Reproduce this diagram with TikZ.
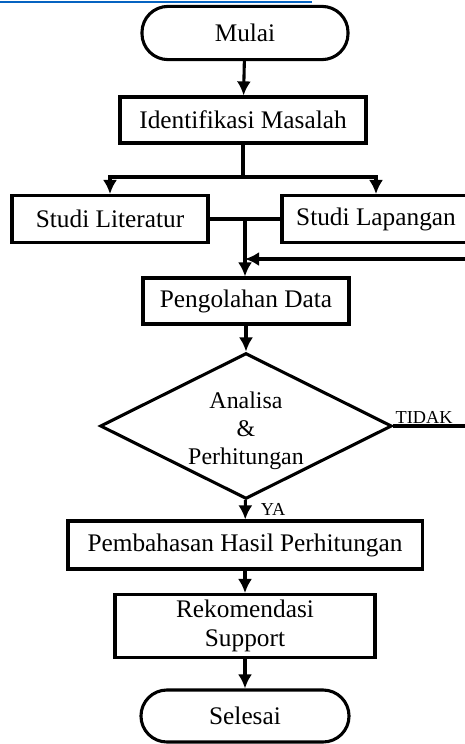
\documentclass[tikz,border=0pt]{standalone}
\usepackage{fontspec}
\setmainfont{Liberation Serif}
\usepackage{xcolor}
\usepackage{tikz}
\usetikzlibrary{arrows.meta,shapes}

\definecolor{linkblue}{RGB}{5,99,193}
\tikzset{
  box/.style={draw=black,line width=2.2pt,rectangle,inner sep=0pt,align=center,
    font=\fontsize{18}{21}\selectfont},
  term/.style={box,rounded corners=0.65cm},
  choice/.style={box,diamond,shape aspect=2,inner sep=0pt},
  lbl/.style={inner sep=1pt,font=\fontsize{13}{15}\selectfont},
  line/.style={line width=2.2pt},
  arr/.style={line,-{Latex[length=10pt,width=10pt]}}
}

\begin{document}
\begin{tikzpicture}[x=0.025cm,y=-0.025cm]
	\clip (0,0) rectangle (465,744);
	\fill[white] (0,0) rectangle (465,744);
	\draw[linkblue,line width=1.2pt] (0,2) -- (312,2);
	% nodes
	\node[term,minimum width=5.15cm,minimum height=1.33cm] (mulai) at (245,33) {Mulai};
	\node[box,minimum width=6.15cm,minimum height=1.15cm] (ident) at (243,120) {Identifikasi Masalah};
	\node[box,minimum width=4.9cm,minimum height=1.17cm] (lit) at (110,219) {Studi Literatur};
	\node[box,minimum width=4.7cm,minimum height=1.17cm] (lap) at (376,219) {Studi Lapangan};
	\node[box,minimum width=5.15cm,minimum height=1.15cm] (olah) at (246,301) {Pengolahan Data};
	\node[choice,minimum width=7.15cm,minimum height=3.6cm,
	  font=\fontsize{17}{20}\selectfont] (dec) at (246,426) {\\[-1pt]Analisa\\\&\\Perhitungan};
	\node[box,minimum width=8.85cm,minimum height=1.2cm] (bahas) at (245,545) {Pembahasan Hasil Perhitungan};
	\node[box,minimum width=6.5cm,minimum height=1.57cm] (rekom) at (245,626) {Rekomendasi\\Support};
	\node[term,minimum width=5.2cm,minimum height=1.3cm] (selesai) at (245,716) {Selesai};
	\coordinate (split) at (243,177);
	\coordinate (join) at (245,219);
	\coordinate (back) at (470,259);
	\coordinate (tidak) at (470,426);
	% connectors
	\draw[arr] (mulai) -- (ident);
	\draw[line] (ident) -- (split);
	\draw[arr] (split) -| (lit);
	\draw[arr] (split) -| (lap);
	\draw[line] (lit.east) -- (lap.west);
	\draw[arr] (join) -- (join |- olah.north);
	\draw[arr] (back) -- (join |- back);
	\draw[arr] (olah) -- (dec);
	\draw[line] (dec.east) -- (tidak) node[lbl,pos=0.4,above] {TIDAK};
	\draw[arr] (dec) -- (bahas) node[lbl,midway,right=9pt] {YA};
	\draw[arr] (bahas) -- (rekom);
	\draw[arr] (rekom) -- (selesai);
\end{tikzpicture}
\end{document}
